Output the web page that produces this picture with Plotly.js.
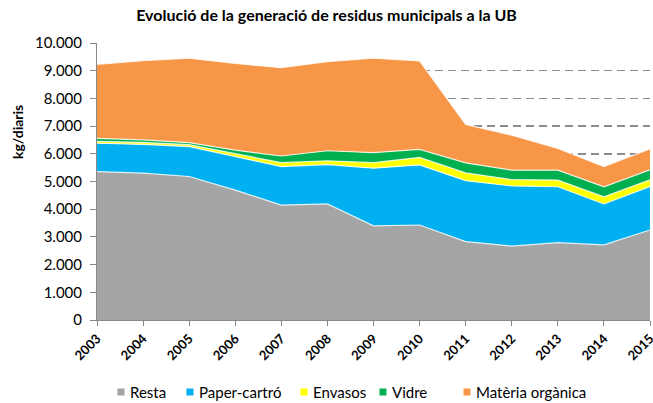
<!DOCTYPE html>
<html>
<head>
<meta charset="utf-8">
<script src="https://cdn.plot.ly/plotly-3.0.1.min.js"></script>
<style>html,body{margin:0;padding:0;background:#fff;}#chart{width:653px;height:403px;}</style>
</head>
<body>
<div id="chart"></div>
<script>
const years = [2003,2004,2005,2006,2007,2008,2009,2010,2011,2012,2013,2014,2015];
const resta = [5360,5300,5180,4690,4150,4190,3400,3430,2830,2670,2790,2710,3250];
const paperCartro = [1020,1040,1080,1200,1390,1420,2080,2170,2200,2170,2020,1480,1570];
const envasos = [70,70,70,120,140,140,200,270,280,230,240,260,240];
const vidre = [110,90,70,120,240,360,360,290,360,340,360,360,360];
const materiaOrganica = [2670,2860,3050,3130,3190,3220,3410,3190,1390,1260,780,730,760];
const seriesNames = ['Resta','Paper-cartró','Envasos','Vidre','Matèria orgànica'];
const seriesValues = [resta, paperCartro, envasos, vidre, materiaOrganica];
const colors = ['#a5a5a5','#00b0f0','#ffff00','#00b050','#f79646'];

const FONT = 'Lato, Open Sans, sans-serif';
const W = 653, H = 403;
const M = {l:97, r:3, t:43, b:83};
const pw = W - M.l - M.r, ph = H - M.t - M.b;
const px2x = p => (p - M.l) / pw;
const py2y = p => (H - M.b - p) / ph;

const traces = seriesNames.map((n,i)=>({
  type:'scatter', mode:'lines', name:n, x:years, y:seriesValues[i],
  stackgroup:'one', fillcolor:colors[i], showlegend:false,
  line:{color:'rgba(255,255,255,0.8)', width:1.2, shape:'linear'}
}));

// custom legend (square swatch + label), positions in pixels
const legendSquareX = [121, 190, 304, 383, 467];
const legendY = 392;
const shapes = [], annotations = [];
seriesNames.forEach((n,i)=>{
  shapes.push({type:'rect', xref:'paper', yref:'paper',
    x0:px2x(legendSquareX[i]-3.5), x1:px2x(legendSquareX[i]+3.5),
    y0:py2y(legendY+3.5), y1:py2y(legendY-3.5),
    fillcolor:colors[i], line:{width:0}});
  annotations.push({text:n, xref:'paper', yref:'paper', x:px2x(legendSquareX[i]+7), y:py2y(legendY),
    xanchor:'left', yanchor:'middle', showarrow:false,
    font:{family:FONT, size:15, color:'#000'}});
});
annotations.push({text:'kg/diaris', xref:'paper', yref:'paper', x:px2x(17), y:py2y(132),
  xanchor:'center', yanchor:'middle', textangle:-90, showarrow:false,
  font:{family:FONT, size:14, color:'#000', weight:'bold'}});

const layout = {
  width:W, height:H, margin:M,
  paper_bgcolor:'#fff', plot_bgcolor:'#fff',
  separators:',.',
  title:{text:'Evolució de la generació de residus municipals a la UB', x:0.5, xanchor:'center', y:0.975, yanchor:'top',
    font:{family:FONT, size:16, color:'#000', weight:'bold'}},
  xaxis:{range:[2003,2015], tickmode:'array', tickvals:years, ticktext:years.map(String), tickangle:-45,
    tickfont:{family:FONT, size:13, color:'#000', weight:'bold'}, ticklabeloverflow:'allow',
    showgrid:false, zeroline:false, showline:true, linecolor:'#888', linewidth:1,
    ticks:'outside', ticklen:5, tickcolor:'#888'},
  yaxis:{range:[0,10000], dtick:1000, tickformat:',d',
    tickfont:{family:FONT, size:15, color:'#000'}, ticklabelstandoff:5,
    showgrid:true, gridcolor:'#8c8c8c', griddash:'8px,5px', gridwidth:1.5,
    zeroline:false, showline:true, linecolor:'#888', linewidth:1,
    ticks:'outside', ticklen:6, tickcolor:'#888'},
  shapes:shapes, annotations:annotations,
  showlegend:false
};
Plotly.newPlot('chart', traces, layout, {displayModeBar:false, staticPlot:true});
</script>
</body>
</html>
